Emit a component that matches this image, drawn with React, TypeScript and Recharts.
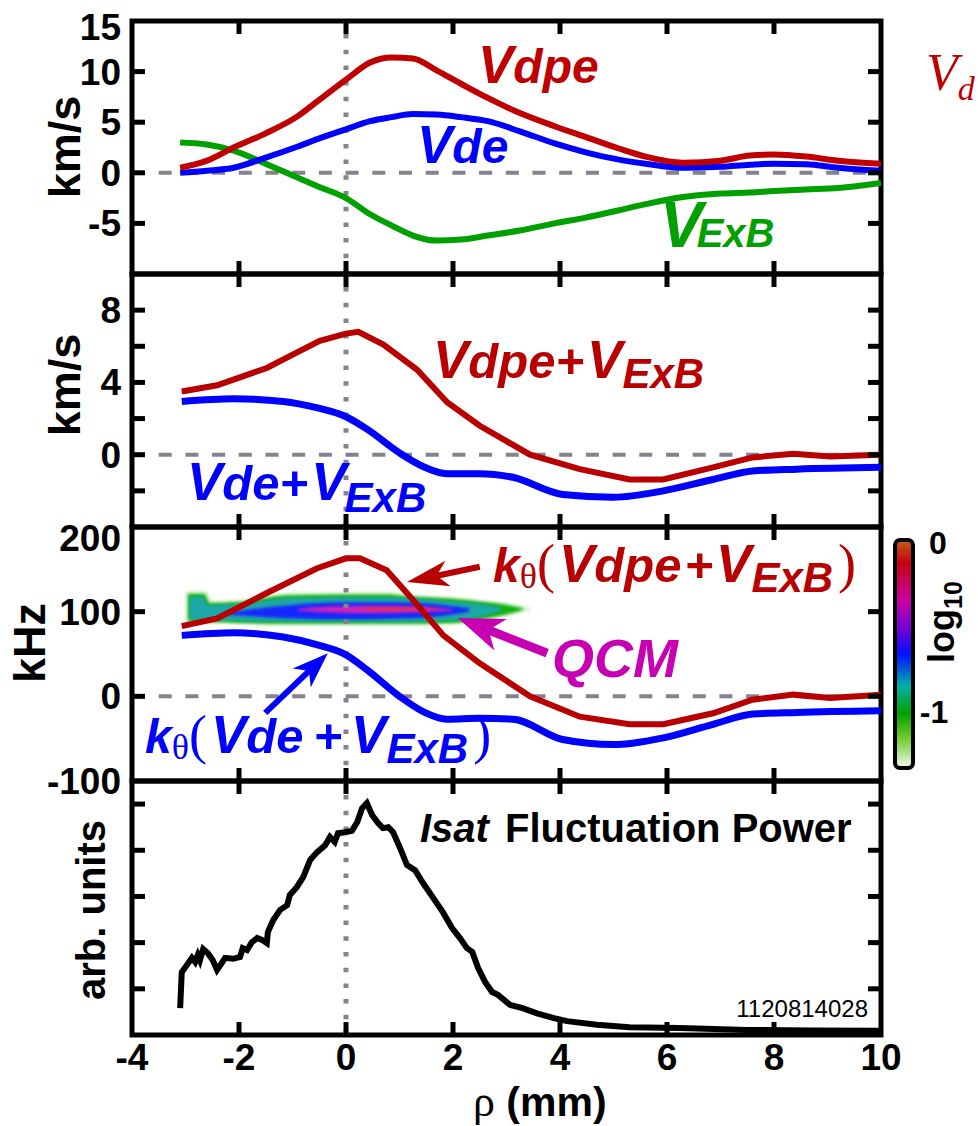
import React from 'react';
import { ComposedChart, Line, Area, XAxis, YAxis, ReferenceLine, ReferenceArea } from 'recharts';

const W = 978;
const H = 1126;
const PLOT_L = 132;
const PLOT_R = 881;
const AX = 1; // thickness reserved for each (invisible) axis box
const SANS = "'Liberation Sans', Arial, Helvetica, sans-serif";
const SERIF = "'Liberation Serif', 'Times New Roman', serif";
const RED = '#c00000';
const RED2 = '#b80000';
const BLUE = '#0000ff';
const GREEN = '#00a000';
const MAGENTA = '#c800b4';
const GRAY = '#85818e';

const X_DOMAIN = [-4, 10];
const X_TICKS = [-4, -2, 0, 2, 4, 6, 8, 10];

// ---- Panel 1: drift velocities (km/s)
const p1Rho = [-3.1, -2.6, -2.1, -1.5, -0.9, -0.5, 0, 0.45, 0.85, 1.25, 1.7, 2.15, 2.65, 3.25, 3.9, 4.5, 5.1, 5.6, 6.3, 7.0, 7.55, 8.0, 8.6, 9.2, 10];
const p1Vdpe = [0.5, 1.2, 2.5, 3.9, 5.6, 7.2, 9.2, 10.9, 11.4, 11.3, 10.1, 8.8, 7.4, 5.9, 4.6, 3.5, 2.4, 1.6, 1.0, 1.2, 1.7, 1.8, 1.6, 1.2, 0.9];
const p1Vde = [0.0, 0.2, 0.5, 1.5, 2.6, 3.4, 4.3, 5.1, 5.5, 5.8, 5.75, 5.5, 5.1, 4.1, 2.9, 2.0, 1.3, 0.9, 0.5, 0.6, 0.8, 0.9, 0.85, 0.5, 0.2];
const p1VExB = [3.0, 2.8, 2.2, 0.9, -0.5, -1.4, -2.5, -4.1, -5.2, -6.2, -6.7, -6.6, -6.2, -5.7, -5.0, -4.4, -3.7, -3.1, -2.4, -2.05, -1.95, -1.8, -1.65, -1.5, -1.0];

// ---- Panel 2: sums (km/s)
const p2RedRho = [-3.07, -2.41, -1.48, -0.86, -0.49, 0, 0.23, 0.7, 1.33, 1.89, 2.5, 3.0, 3.44, 4.37, 5.3, 5.93, 6.86, 7.6, 8.36, 9.05, 10];
const p2RedVal = [3.5, 3.84, 4.8, 5.75, 6.3, 6.7, 6.8, 6.1, 4.7, 2.9, 1.6, 0.75, 0.0, -0.8, -1.37, -1.37, -0.7, -0.15, 0.05, -0.1, 0.0];
const p2BlueRho = [-3.07, -2.1, -1.17, -0.55, 0, 0.4, 1.0, 1.44, 1.89, 2.5, 3.12, 4.05, 5.0, 5.93, 6.86, 7.6, 8.43, 10];
const p2BlueVal = [2.95, 3.1, 2.95, 2.6, 2.1, 1.4, 0.1, -0.65, -1.05, -1.05, -1.25, -2.2, -2.35, -2.0, -1.37, -0.9, -0.8, -0.7];

// ---- Panel 3: frequencies (kHz)
const p3RedRho = [-3.07, -2.41, -1.48, -0.55, 0, 0.26, 0.76, 1.25, 1.82, 2.5, 3.44, 4.37, 5.3, 5.93, 6.86, 7.6, 8.36, 9.05, 10];
const p3RedVal = [83, 92, 122, 151, 163, 163, 149, 114, 72, 39, 0, -24, -33, -33, -20, -4, 2, -2, 2];
const p3BlueRho = [-3.07, -2.1, -1.17, -0.55, 0, 0.4, 1.0, 1.44, 1.89, 2.5, 3.12, 4.05, 5.0, 5.93, 6.86, 7.6, 8.43, 10];
const p3BlueVal = [72, 75, 70, 61, 49, 31, 0, -18, -27, -26, -27, -51, -57, -49, -33, -21, -19, -17];

// QCM spectral contour bands: [rho, low kHz, high kHz]
const qcmHalo = [[-3.0, 86, 124], [-2.62, 86, 124], [-2.5, 86, 113], [-2.0, 85, 114], [-1.1, 84, 122], [0, 84, 123], [0.8, 84, 123], [1.1, 84, 121], [2.0, 85, 117], [2.6, 90, 113], [3.0, 95, 110], [3.45, 102, 104]];
const qcmGreen = [[-2.95, 89, 121], [-2.65, 88, 121], [-2.55, 88, 110], [-2.0, 87, 111], [-1.1, 86, 119], [0, 86, 120], [0.8, 86, 120], [1.1, 86, 118], [2.0, 87, 115], [2.6, 92, 111], [3.0, 97, 108], [3.3, 102, 104]];
const qcmTeal = [[-2.92, 91, 118], [-2.68, 90, 118], [-2.58, 90, 108], [-2.0, 89, 109], [-1.1, 88, 116], [0, 88, 117], [0.8, 88, 117], [1.1, 88, 116], [2.0, 90, 112], [2.5, 94, 109], [2.9, 101, 105]];
const qcmBlue = [[-2.2, 96, 99], [-1.6, 94, 104], [-1.0, 92, 108], [0, 91, 111], [1.0, 92, 111], [1.8, 95, 108], [2.3, 100, 104]];
const qcmMagenta = [[-0.9, 101, 103], [-0.3, 99, 106], [0.5, 98, 107], [1.3, 99, 106], [2.0, 101, 103]];
const qcmRed = [[0.2, 102.5, 103.5], [0.9, 101.5, 104.5], [1.7, 102.5, 103.5]];

// annotation arrows [tail, tip] in data coordinates (rho, kHz)
const arrowRed = [[2.5, 153], [1.14, 135]];
const arrowMagenta = [[3.76, 51], [2.09, 92.6]];
const arrowBlue = [[-1.51, -19.6], [-0.34, 51]];

// ---- Panel 4: Isat fluctuation power (arb. units)
const p4Rho = [-3.10, -3.07, -2.97, -2.88, -2.82, -2.77, -2.73, -2.67, -2.58, -2.49, -2.41, -2.32, -2.26, -2.11, -1.98, -1.93, -1.85, -1.76, -1.66, -1.57, -1.48, -1.46, -1.36, -1.23, -1.10, -1.05, -0.92, -0.80, -0.67, -0.54, -0.39, -0.30, -0.21, -0.15, -0.02, 0.11, 0.21, 0.30, 0.39, 0.49, 0.60, 0.69, 0.79, 0.88, 1.01, 1.14, 1.29, 1.44, 1.63, 1.81, 1.98, 2.13, 2.26, 2.36, 2.47, 2.60, 2.73, 2.84, 3.07, 3.30, 3.57, 3.87, 4.13, 4.69, 5.30, 6.24, 7.50, 8.73, 10.0];
const p4Pow = [0.58, 1.36, 1.52, 1.67, 1.58, 1.73, 1.62, 1.86, 1.77, 1.62, 1.41, 1.56, 1.67, 1.65, 1.69, 1.88, 1.84, 2.01, 2.10, 2.06, 1.99, 2.23, 2.49, 2.71, 2.81, 3.03, 3.20, 3.42, 3.79, 3.96, 4.11, 4.29, 4.18, 4.37, 4.39, 4.42, 4.61, 4.91, 5.02, 4.76, 4.59, 4.48, 4.50, 4.39, 4.05, 3.68, 3.57, 3.29, 2.97, 2.66, 2.32, 2.10, 1.88, 1.80, 1.45, 1.15, 0.93, 0.87, 0.65, 0.58, 0.47, 0.37, 0.30, 0.22, 0.17, 0.15, 0.11, 0.10, 0.09];

const p1Data = p1Rho.map((x, i) => ({ x, vdpe: p1Vdpe[i], vde: p1Vde[i], vexb: p1VExB[i] }));
const toXY = (xs: number[], ys: number[]) => xs.map((x, i) => ({ x, v: ys[i] }));
const toBand = (b: number[][]) => b.map(([x, lo, hi]) => ({ x, v: [lo, hi] }));

const tickFont = { fontFamily: SANS, fontWeight: 'bold' as const, fontSize: 37, fill: '#000' };

function XTick(props: any) {
  const { x, y, payload, side, showLabel } = props;
  const v = payload.value;
  const inner = v > X_DOMAIN[0] && v < X_DOMAIN[1];
  const dir = side === 'bottom' ? -1 : 1;
  return (
    <g>
      {inner && <line x1={x} x2={x} y1={y} y2={y + dir * 13} stroke="#000" strokeWidth={5} />}
      {showLabel && (
        <text x={x} y={y + 35} textAnchor="middle" {...tickFont}>{String(v)}</text>
      )}
    </g>
  );
}

function YTick(props: any) {
  const { x, y, payload, side, labels, domain, topShift } = props;
  const v = payload.value;
  const inner = v > domain[0] && v < domain[1];
  const dir = side === 'left' ? 1 : -1;
  const showLabel = side === 'left' && labels.includes(v);
  const shift = v === domain[1] ? topShift : 0;
  return (
    <g>
      {inner && <line x1={x} x2={x + dir * 13} y1={y} y2={y} stroke="#000" strokeWidth={5} />}
      {showLabel && (
        <text x={x - 11} y={y + shift + 13} textAnchor="end" {...tickFont}>{String(v)}</text>
      )}
    </g>
  );
}

function arrowShape(color: string, sw: number, L: number, hw: number) {
  return (props: any) => {
    const { x1, y1, x2, y2 } = props;
    const dx = x2 - x1;
    const dy = y2 - y1;
    const len = Math.hypot(dx, dy) || 1;
    const ux = dx / len;
    const uy = dy / len;
    const px = -uy;
    const py = ux;
    const bx = x2 - ux * L;
    const by = y2 - uy * L;
    const nx = x2 - ux * L * 0.72;
    const ny = y2 - uy * L * 0.72;
    const pts = `${x2},${y2} ${bx + px * hw},${by + py * hw} ${nx},${ny} ${bx - px * hw},${by - py * hw}`;
    return (
      <g>
        <line x1={x1} y1={y1} x2={nx + ux * 2} y2={ny + uy * 2} stroke={color} strokeWidth={sw} />
        <polygon points={pts} fill={color} />
      </g>
    );
  };
}

function Panel(props: any) {
  const { top, bottom, yDomain, yTicks, yLabels, topShift, xLabels, children } = props;
  return (
    <div style={{ position: 'absolute', left: 0, top: 0 }}>
      <ComposedChart width={W} height={H}
        margin={{ top: top - AX, bottom: H - bottom - AX, left: PLOT_L - AX, right: W - PLOT_R - AX }}>
        <XAxis xAxisId="b" dataKey="x" type="number" domain={X_DOMAIN} ticks={X_TICKS} interval={0} height={AX}
          axisLine={false} tickLine={false} tickSize={0} tickMargin={0} allowDataOverflow
          tick={(p: any) => <XTick {...p} side="bottom" showLabel={xLabels} />} />
        <XAxis xAxisId="t" orientation="top" dataKey="x" type="number" domain={X_DOMAIN} ticks={X_TICKS} interval={0} height={AX}
          axisLine={false} tickLine={false} tickSize={0} tickMargin={0} allowDataOverflow
          tick={(p: any) => <XTick {...p} side="top" showLabel={false} />} />
        <YAxis yAxisId="l" type="number" domain={yDomain} ticks={yTicks} interval={0} width={AX}
          axisLine={false} tickLine={false} tickSize={0} tickMargin={0} allowDataOverflow
          tick={(p: any) => <YTick {...p} side="left" labels={yLabels} domain={yDomain} topShift={topShift} />} />
        <YAxis yAxisId="r" orientation="right" type="number" domain={yDomain} ticks={yTicks} interval={0} width={AX}
          axisLine={false} tickLine={false} tickSize={0} tickMargin={0} allowDataOverflow
          tick={(p: any) => <YTick {...p} side="right" labels={yLabels} domain={yDomain} topShift={0} />} />
        {children}
        <ReferenceArea xAxisId="b" yAxisId="l" x1={X_DOMAIN[0]} x2={X_DOMAIN[1]} y1={yDomain[0]} y2={yDomain[1]}
          fill="none" fillOpacity={0} stroke="#000" strokeWidth={5} ifOverflow="visible" />
      </ComposedChart>
    </div>
  );
}

const zeroLine = (
  <ReferenceLine key="zero" xAxisId="b" yAxisId="l" y={0} stroke={GRAY} strokeWidth={4} strokeDasharray="13 13.7" />
);
const dotLine = (
  <ReferenceLine key="dot" xAxisId="b" yAxisId="l" x={0} stroke={GRAY} strokeWidth={5} strokeDasharray="4.5 11.2" />
);

const band = (key: string, data: number[][], color: string) => (
  <Area key={key} xAxisId="b" yAxisId="l" data={toBand(data)} dataKey="v" type="monotone" stroke="none"
    fill={color} fillOpacity={1} filter="url(#soft)" isAnimationActive={false} dot={false} activeDot={false} />
);

function Annotations() {
  const bi = { fontFamily: SANS, fontWeight: 'bold' as const, fontStyle: 'italic' as const };
  const b = { fontFamily: SANS, fontWeight: 'bold' as const };
  const serif = { fontFamily: SERIF, fontStyle: 'normal' as const, fontWeight: 'normal' as const };
  return (
    <svg width={W} height={H} style={{ position: 'absolute', left: 0, top: 0 }}>
      <defs>
        <linearGradient id="cbar" x1="0" y1="0" x2="0" y2="1">
          <stop offset="0" stopColor="#c0601a" />
          <stop offset="0.1" stopColor="#c80010" />
          <stop offset="0.27" stopColor="#c800a8" />
          <stop offset="0.4" stopColor="#6a00d8" />
          <stop offset="0.5" stopColor="#0010ff" />
          <stop offset="0.64" stopColor="#00b0a8" />
          <stop offset="0.76" stopColor="#00a000" />
          <stop offset="0.87" stopColor="#70cc30" />
          <stop offset="1" stopColor="#f4faf0" />
        </linearGradient>
      </defs>

      {/* axis titles */}
      <text transform="translate(80,147) rotate(-90)" textAnchor="middle" {...b} fontSize={45}>km/s</text>
      <text transform="translate(80,385) rotate(-90)" textAnchor="middle" {...b} fontSize={45}>km/s</text>
      <text transform="translate(45,643) rotate(-90)" textAnchor="middle" {...b} fontSize={45}>kHz</text>
      <text transform="translate(105,910) rotate(-90)" textAnchor="middle" {...b} fontSize={40}>arb. units</text>
      <text x={473} y={1116}>
        <tspan fontFamily={SERIF} fontSize={44}>ρ</tspan>
        <tspan {...b} fontSize={41}> (mm)</tspan>
      </text>

      {/* panel 1 */}
      <text x={478} y={83} fill={RED} {...bi}><tspan fontSize={53}>V</tspan><tspan fontSize={48}>dpe</tspan></text>
      <text x={417} y={163} fill={BLUE} {...bi}><tspan fontSize={53}>V</tspan><tspan fontSize={48}>de</tspan></text>
      <text x={660} y={247} fill={GREEN} {...bi}><tspan fontSize={64}>V</tspan><tspan fontSize={40} dx={-6}>ExB</tspan></text>
      <text x={926} y={90} fill={RED} fontFamily={SERIF} fontStyle="italic" fontSize={52}>V<tspan fontSize={34} dy={10}>d</tspan></text>

      {/* panel 2 */}
      <text x={433} y={378} fill={RED2} {...bi}>
        <tspan fontSize={53}>V</tspan><tspan fontSize={49}>dpe+</tspan><tspan fontSize={53} dx={3}>V</tspan><tspan fontSize={42} dy={10}>ExB</tspan>
      </text>
      <text x={187} y={500} fill={BLUE} {...bi}>
        <tspan fontSize={53}>V</tspan><tspan fontSize={49}>de+</tspan><tspan fontSize={53} dx={3}>V</tspan><tspan fontSize={42} dy={12} dx={-2}>ExB</tspan>
      </text>

      {/* panel 3 */}
      <text x={493} y={582} fill={RED2} {...bi}>
        <tspan fontSize={48}>k</tspan>
        <tspan {...serif} fontSize={36} dy={6}>θ</tspan>
        <tspan {...serif} fontSize={54} dy={-6}>(</tspan>
        <tspan fontSize={53} dx={4}>V</tspan><tspan fontSize={49}>dpe</tspan>
        <tspan fontSize={49} dx={3}>+</tspan><tspan fontSize={53} dx={3}>V</tspan>
        <tspan fontSize={42} dy={10}>ExB</tspan>
        <tspan {...serif} fontSize={54} dy={-10} dx={5}>)</tspan>
      </text>
      <text x={145} y={753} fill={BLUE} {...bi}>
        <tspan fontSize={48}>k</tspan>
        <tspan {...serif} fontSize={36} dy={6}>θ</tspan>
        <tspan {...serif} fontSize={54} dy={-6}>(</tspan>
        <tspan fontSize={53} dx={4}>V</tspan><tspan fontSize={49}>de</tspan>
        <tspan fontSize={49} dx={10}>+</tspan><tspan fontSize={53} dx={9}>V</tspan>
        <tspan fontSize={42} dy={10}>ExB</tspan>
        <tspan {...serif} fontSize={54} dy={-10} dx={5}>)</tspan>
      </text>
      <text x={552} y={677} fill={MAGENTA} {...bi} fontSize={54}>QCM</text>

      {/* colour bar */}
      <rect x={895} y={540} width={18} height={228} rx={5} fill="url(#cbar)" stroke="#000" strokeWidth={4} />
      <text x={938} y={554} textAnchor="middle" {...b} fontSize={32}>0</text>
      <text x={934} y={723} textAnchor="middle" {...b} fontSize={32}>-1</text>
      <text transform="translate(954,622) rotate(-90)" textAnchor="middle" {...b}>
        <tspan fontSize={36}>log</tspan><tspan fontSize={25} dy={8}>10</tspan>
      </text>

      {/* panel 4 */}
      <text x={420} y={842} {...bi} fontSize={40}>Isat</text>
      <text x={505} y={842} {...b} fontSize={40}>Fluctuation Power</text>
      <text x={868} y={1017} textAnchor="end" fontFamily={SANS} fontSize={24} fill="#000">1120814028</text>
    </svg>
  );
}

export default function App() {
  return (
    <div style={{ position: 'absolute', left: 0, top: 0, width: W, height: H, background: '#fff', overflow: 'hidden' }}>
      <svg width={0} height={0} style={{ position: 'absolute' }}>
        <defs>
          <filter id="soft" x="-5%" y="-50%" width="110%" height="200%">
            <feGaussianBlur stdDeviation="1.6" />
          </filter>
        </defs>
      </svg>
      <Panel top={21} bottom={274} yDomain={[-10, 15]} yTicks={[-10, -5, 0, 5, 10, 15]} yLabels={[-5, 0, 5, 10, 15]} topShift={6} xLabels={false}>
        {zeroLine}
        {dotLine}
        <Line xAxisId="b" yAxisId="l" data={p1Data} dataKey="vexb" type="monotone" stroke={GREEN} strokeWidth={6} dot={false} isAnimationActive={false} />
        <Line xAxisId="b" yAxisId="l" data={p1Data} dataKey="vde" type="monotone" stroke={BLUE} strokeWidth={6} dot={false} isAnimationActive={false} />
        <Line xAxisId="b" yAxisId="l" data={p1Data} dataKey="vdpe" type="monotone" stroke={RED} strokeWidth={6} dot={false} isAnimationActive={false} />
      </Panel>
      <Panel top={274} bottom={527} yDomain={[-4, 10]} yTicks={[-4, -2, 0, 2, 4, 6, 8, 10]} yLabels={[0, 4, 8]} topShift={0} xLabels={false}>
        {zeroLine}
        {dotLine}
        <Line xAxisId="b" yAxisId="l" data={toXY(p2BlueRho, p2BlueVal)} dataKey="v" type="monotone" stroke={BLUE} strokeWidth={7} dot={false} isAnimationActive={false} />
        <Line xAxisId="b" yAxisId="l" data={toXY(p2RedRho, p2RedVal)} dataKey="v" type="linear" stroke={RED2} strokeWidth={6} dot={false} isAnimationActive={false} />
      </Panel>
      <Panel top={527} bottom={781} yDomain={[-100, 200]} yTicks={[-100, 0, 100, 200]} yLabels={[-100, 0, 100, 200]} topShift={11} xLabels={false}>
        {band('halo', qcmHalo, '#cfeec0')}
        {band('green', qcmGreen, '#10b010')}
        {band('teal', qcmTeal, '#1aa8a8')}
        {band('blue', qcmBlue, '#1428ff')}
        {band('mag', qcmMagenta, '#d020b8')}
        {band('red', qcmRed, '#e83030')}
        {zeroLine}
        {dotLine}
        <Line xAxisId="b" yAxisId="l" data={toXY(p3BlueRho, p3BlueVal)} dataKey="v" type="monotone" stroke={BLUE} strokeWidth={7} dot={false} isAnimationActive={false} />
        <Line xAxisId="b" yAxisId="l" data={toXY(p3RedRho, p3RedVal)} dataKey="v" type="linear" stroke={RED2} strokeWidth={6} dot={false} isAnimationActive={false} />
        <ReferenceLine xAxisId="b" yAxisId="l" segment={[{ x: arrowRed[0][0], y: arrowRed[0][1] }, { x: arrowRed[1][0], y: arrowRed[1][1] }]}
          shape={arrowShape(RED2, 6, 42, 13)} />
        <ReferenceLine xAxisId="b" yAxisId="l" segment={[{ x: arrowMagenta[0][0], y: arrowMagenta[0][1] }, { x: arrowMagenta[1][0], y: arrowMagenta[1][1] }]}
          shape={arrowShape(MAGENTA, 9, 46, 17)} />
        <ReferenceLine xAxisId="b" yAxisId="l" segment={[{ x: arrowBlue[0][0], y: arrowBlue[0][1] }, { x: arrowBlue[1][0], y: arrowBlue[1][1] }]}
          shape={arrowShape(BLUE, 6, 36, 13)} />
      </Panel>
      <Panel top={781} bottom={1035} yDomain={[0, 5.5]} yTicks={[0, 1, 2, 3, 4, 5]} yLabels={[]} topShift={0} xLabels={true}>
        {dotLine}
        <Line xAxisId="b" yAxisId="l" data={toXY(p4Rho, p4Pow)} dataKey="v" type="linear" stroke="#000" strokeWidth={6} dot={false} isAnimationActive={false} />
      </Panel>
      <Annotations />
    </div>
  );
}
